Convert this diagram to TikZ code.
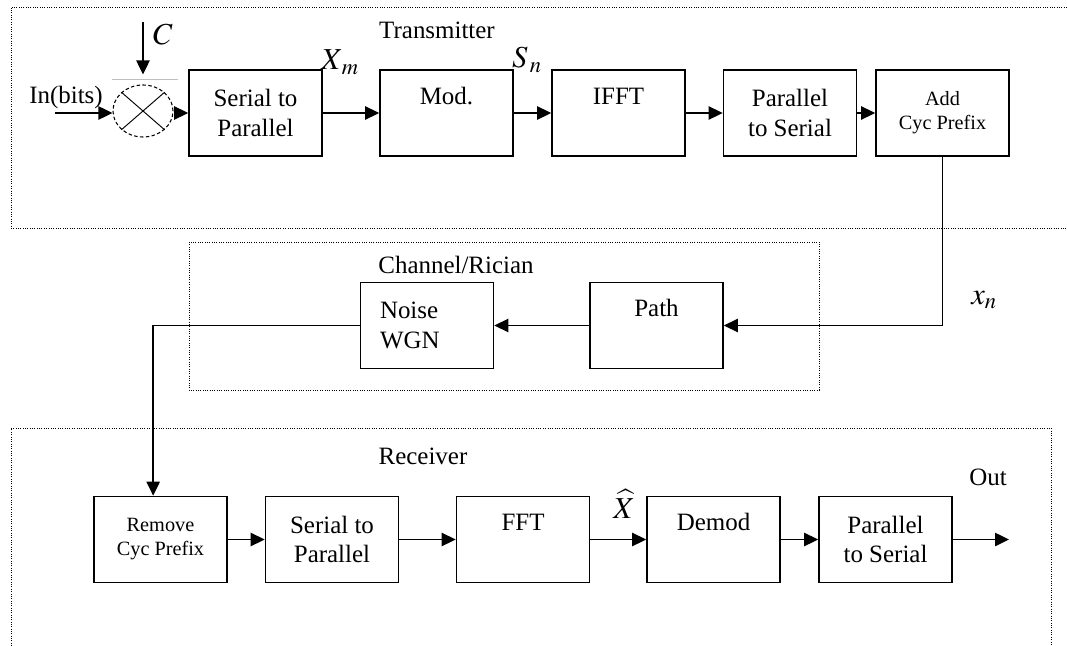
\documentclass[tikz,border=0pt]{standalone}
\usepackage{mathptmx}
\usepackage{fontspec}
\setmainfont{Liberation Serif}
\usetikzlibrary{arrows.meta, shapes.geometric}

\begin{document}
\begin{tikzpicture}[x=0.03cm, y=-0.03cm,
  font=\fontsize{21.3}{25.5}\selectfont,
  blk/.style={draw, line width=1.4pt, minimum width=3.99cm, minimum height=2.58cm, align=center, inner sep=2pt},
  blkup/.style={blk, text height=0.55cm, text depth=1.07cm},
  smallfont/.style={font=\fontsize{17.3}{20.5}\selectfont},
  grp/.style={line width=0.8pt, dash pattern=on 0.8pt off 1.2pt},
  sig/.style={-{Triangle[length=0.42cm, width=0.4cm]}, line width=1.2pt},
  lbl/.style={font=\fontsize{26}{30}\selectfont, inner sep=0pt}]
\useasboundingbox (0,0) rectangle (1067,646);
\draw[grp] (1067,7) -- (11,7) -- (11,228) -- (1067,228);
\draw[grp] (189,242) rectangle (819,390);
\draw[grp] (11,646) -- (11,428) -- (1051,428) -- (1051,646);
\node (tx) at (437,30) {Transmitter};
\node (ch) at (456,265) {Channel/Rician};
\node (rx) at (423,456) {Receiver};

\node[draw, ellipse, minimum width=1.8cm, minimum height=1.56cm, densely dashed, line width=0.9pt, inner sep=0pt] (mix) at (143,111) {};
\draw[line width=0.8pt] (mix.north west) -- (mix.south east) (mix.north east) -- (mix.south west);
\draw[black!25] (112,79) -- (178,79);
\node[blk] (s2p) at (255.5,113) {Serial to\\Parallel};
\node[blkup] (mod) at (446.5,113) {Mod.};
\node[blkup] (ifft) at (618.5,113) {IFFT};
\node[blk] (p2s) at (790,113) {Parallel\\to Serial};
\node[blk, smallfont] (acp) at (942.5,113) {Add\\Cyc Prefix};

\node[blk, text width=2.82cm, align=left] (noise) at (427,325.5) {Noise\\WGN};
\node[blkup] (path) at (656.5,325.5) {Path};

\node[blk, smallfont] (rcp) at (160.5,539.5) {Remove\\Cyc Prefix};
\node[blk] (rs2p) at (332,539.5) {Serial to\\Parallel};
\node[blkup] (fft) at (523,539.5) {FFT};
\node[blkup] (demod) at (713.5,539.5) {Demod};
\node[blk] (rp2s) at (885.5,539.5) {Parallel\\to Serial};

\node (inlbl) at (66,97) {In(bits)};
\node[lbl] (clbl) at (163,35) {$C$};
\node[lbl] (xm) at (340,62) {$X_{\,m}$};
\node[lbl] (sn) at (527,60) {$S_{\,n}$};
\node[lbl] (xn) at (984,300) {$x_n$};
\node[lbl] (xhat) at (624,504) {$\widehat{X}$};
\node (outlbl) at (988,477) {Out};

\coordinate (in) at (55,113);
\coordinate (cin) at (143,22);
\coordinate (out) at (1009,539.5);
\draw[sig] (in) -- (in -| mix.west);
\draw[sig, shorten >=0.3cm] (cin) -- (mix.north);
\draw[sig] (mix.east |- s2p.west) -- (s2p.west);
\foreach \a/\b in {s2p/mod, mod/ifft, ifft/p2s, p2s/acp, rcp/rs2p, rs2p/fft, fft/demod, demod/rp2s}
  \draw[sig] (\a) -- (\b);
\draw[sig] (acp.south) |- (path.east);
\draw[sig] (path) -- (noise);
\draw[sig] (noise.west) -| ([xshift=-0.22cm]rcp.north);
\draw[sig] (rp2s) -- (out);
\end{tikzpicture}
\end{document}
